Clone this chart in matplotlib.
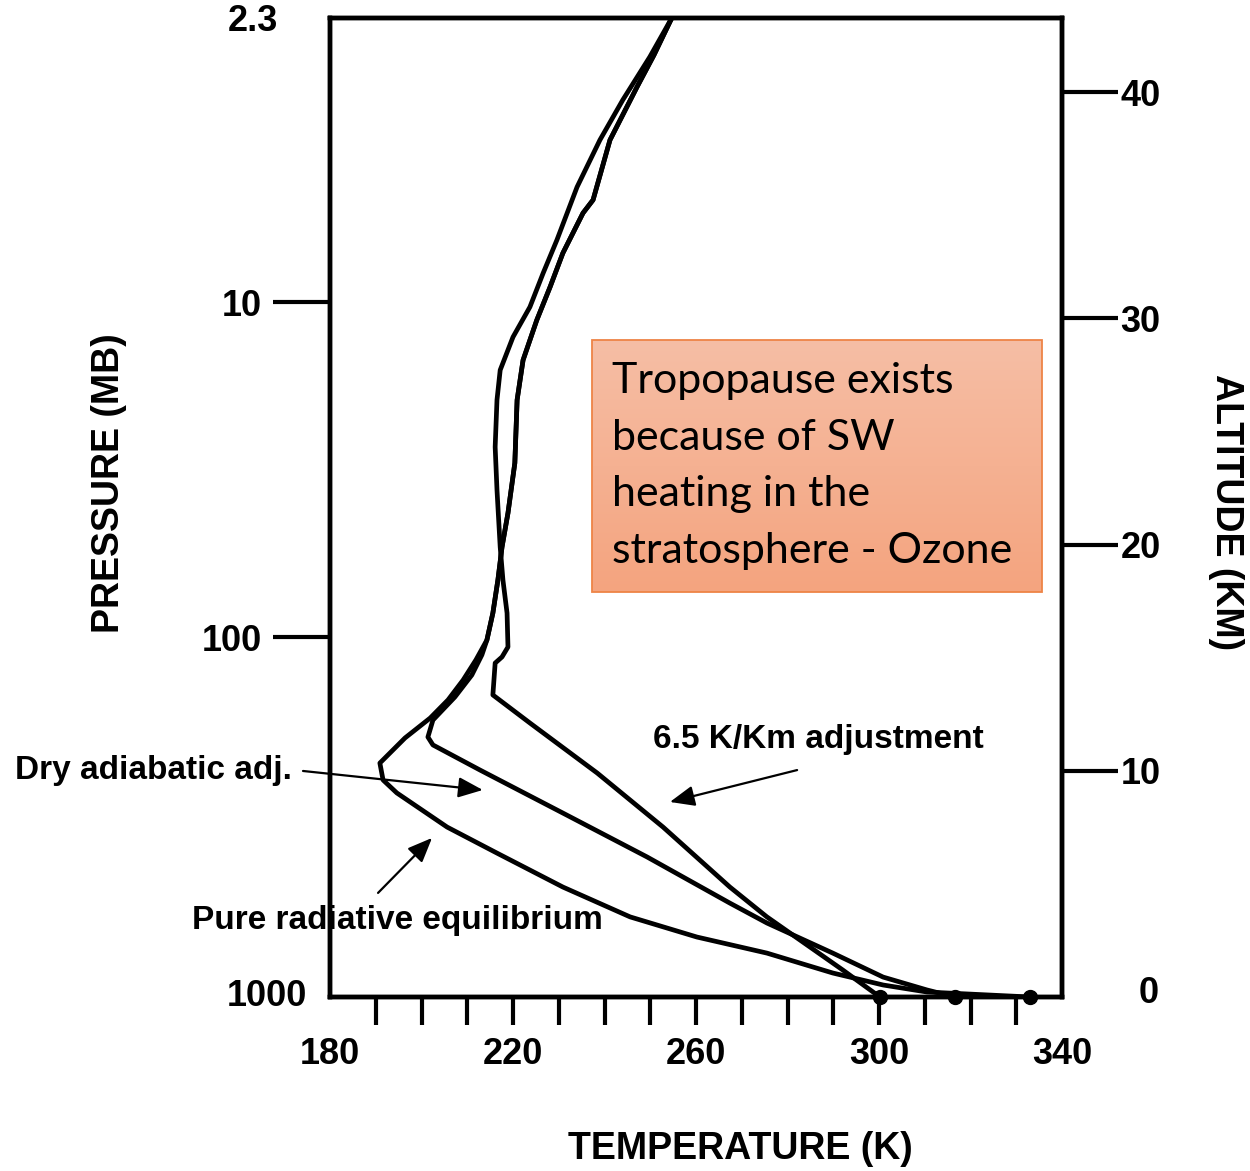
import numpy as np
import matplotlib.pyplot as plt
from matplotlib.colors import LinearSegmentedColormap
from matplotlib.patches import Rectangle

plt.rcParams['font.family'] = ['Liberation Sans', 'DejaVu Sans']
plt.rcParams['font.weight'] = 'bold'
plt.rcParams['axes.labelweight'] = 'bold'

# stratospheric part shared by the radiative and dry adiabatic profiles
strat_temp = [254.7, 250.8, 247.1, 241.2, 237.5, 235.3, 230.9, 228.1, 225.2, 222.2,
              220.9, 220.4, 218.9, 217.6, 216.7, 215.6, 214.3]
strat_alt = [43.27, 41.63, 40.22, 37.88, 35.23, 34.65, 32.88, 31.38, 29.92, 28.15,
             26.39, 23.60, 21.39, 19.89, 18.43, 16.97, 15.78]

# pure radiative equilibrium (K, km)
rad_temp = strat_temp + [211.9, 209.1, 205.8, 201.9, 196.4, 190.9, 191.6, 194.6, 205.6,
                         216.5, 230.9, 245.6, 260.2, 275.5, 289.9, 300.9, 310.5, 333.0]
rad_alt = strat_alt + [14.90, 14.01, 13.13, 12.33, 11.45, 10.34, 9.59, 9.02, 7.51,
                       6.36, 4.86, 3.54, 2.65, 1.94, 1.06, 0.53, 0.22, 0.0]

# dry adiabatic adjustment
dry_temp = strat_temp + [213.2, 211.0, 207.3, 202.5, 201.4, 202.5, 212.8, 230.9, 249.3,
                         267.4, 275.5, 289.9, 300.9, 310.5, 316.6]
dry_alt = strat_alt + [15.12, 14.23, 13.26, 12.24, 11.49, 11.14, 10.03, 8.13, 6.19,
                       4.15, 3.27, 1.94, 0.88, 0.31, 0.0]

# 6.5 K/km adjustment
lapse_temp = [254.7, 249.9, 244.0, 239.0, 234.0, 229.6, 226.6, 223.7, 220.0, 217.2,
              216.5, 216.1, 216.5, 217.2, 217.8, 218.7, 218.9, 217.6, 216.1, 215.6,
              223.7, 238.4, 252.8, 267.4, 275.5, 284.9, 292.1, 300.2]
lapse_alt = [43.27, 41.55, 39.65, 37.88, 35.80, 33.46, 32.0, 30.5, 29.17, 27.71,
             26.39, 24.31, 22.41, 19.89, 18.43, 16.97, 15.47, 15.03, 14.76, 13.35,
             12.11, 9.90, 7.51, 4.86, 3.54, 2.21, 1.19, 0.0]

# axes ticks
temp_ticks = list(range(180, 341, 10))
temp_labels = ['180', '220', '260', '300', '340']
pressure_labels = ['2.3', '10', '100', '1000']
pressure_alt = [43.27, 30.7, 15.9, 0.0]
alt_ticks = [0, 10, 20, 30, 40]

fig = plt.figure(figsize=(12.5, 11.71), dpi=100)
ax = fig.add_axes([0.264, 0.1486, 0.5856, 0.836])
ax.set_xlim(180, 340)
ax.set_ylim(0, 43.27)

for t, z in [(rad_temp, rad_alt), (dry_temp, dry_alt), (lapse_temp, lapse_alt)]:
    ax.plot(t, z, color='black', lw=3.4, solid_joinstyle='round', zorder=3)
    ax.plot(t[-1], z[-1], 'o', color='black', ms=10, clip_on=False, zorder=4)

for s in ax.spines.values():
    s.set_linewidth(3.2)

# temperature axis
ax.set_xticks(temp_ticks, labels=[str(t) if str(t) in temp_labels else '' for t in temp_ticks])
xt = ax.xaxis.get_major_ticks()
xt[0].tick1line.set_visible(False)
xt[-1].tick1line.set_visible(False)
ax.tick_params(axis='x', direction='out', length=20, width=3, pad=9, labelsize=26)

# pressure axis (inner ticks drawn, end labels as text)
ax.set_yticks(pressure_alt[1:3], labels=pressure_labels[1:3])
ax.tick_params(axis='y', direction='out', length=41, width=3, pad=8, labelsize=26)
ax.text(-0.105, 0.996, pressure_labels[0], transform=ax.transAxes, ha='center', va='center', fontsize=26)
ax.text(-0.086, 0.0, pressure_labels[3], transform=ax.transAxes, ha='center', va='center', fontsize=26)

# altitude axis
ax2 = ax.twinx()
ax2.set_ylim(ax.get_ylim())
ax2.set_yticks(alt_ticks[1:])
ax2.tick_params(axis='y', direction='out', length=40, width=3, pad=2, labelsize=26)
for s in ax2.spines.values():
    s.set_linewidth(3.2)
ax2.text(1.119, 0.004, str(alt_ticks[0]), transform=ax.transAxes, ha='center', va='center', fontsize=26)

ax.set_xlabel('TEMPERATURE (K)', fontsize=27, fontweight='bold')
ax.xaxis.set_label_coords(0.56, -0.137)
ax.set_ylabel('PRESSURE (MB)', fontsize=27, fontweight='bold')
ax.yaxis.set_label_coords(-0.278, 0.525)
ax2.set_ylabel('ALTITUDE (KM)', fontsize=27, fontweight='bold', rotation=270, va='bottom')
ax2.yaxis.set_label_coords(1.199, 0.495)

# curve labels with arrows
arrow = dict(arrowstyle='-|>,head_length=0.6,head_width=0.25', color='black', lw=1.6,
             mutation_scale=25, shrinkA=0, shrinkB=0)
ax.annotate('', xy=(213.4, 9.15), xytext=(174.1, 9.99), arrowprops=arrow, annotation_clip=False)
ax.annotate('', xy=(254.3, 8.62), xytext=(282.1, 10.03), arrowprops=arrow)
ax.annotate('', xy=(202.3, 7.03), xytext=(190.5, 4.60), arrowprops=arrow)
ax.text(171.7, 9.99, 'Dry adiabatic adj.', ha='right', va='center', fontsize=24)
ax.text(250.6, 11.36, '6.5 K/Km adjustment', ha='left', va='center', fontsize=24)
ax.text(149.8, 3.40, 'Pure radiative equilibrium', ha='left', va='center', fontsize=24, zorder=1)

# note box
bax = fig.add_axes([0.4736, 0.4945, 0.36, 0.2152])
cmap = LinearSegmentedColormap.from_list('peach', ['#F6BEA5', '#F4A47F'])
bax.imshow(np.linspace(0, 1, 100).reshape(-1, 1), cmap=cmap, aspect='auto',
           extent=[0, 1, 0, 1], origin='upper')
bax.set_xlim(0, 1)
bax.set_ylim(0, 1)
bax.axis('off')
bax.add_patch(Rectangle((0, 0), 1, 1, transform=bax.transAxes, fill=False,
                        edgecolor='#EE8446', lw=1.3, clip_on=False))
bax.text(0.044, 0.5, 'Tropopause exists\nbecause of SW\nheating in the\nstratosphere - Ozone',
         ha='left', va='center', fontsize=31, family='Lato', weight='normal',
         linespacing=1.6, color='black')

fig.savefig('out.png', dpi=100)
